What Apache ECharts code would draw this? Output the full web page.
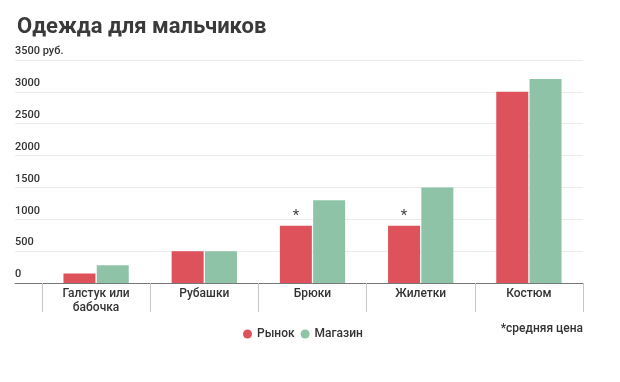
<!DOCTYPE html>
<html><head><meta charset="utf-8">
<script src="https://cdn.jsdelivr.net/npm/echarts@6/dist/echarts.min.js"></script>
<style>html,body{margin:0;padding:0;background:#fff}#c{width:620px;height:382px}</style>
</head><body><div id="c"></div>
<script>
const categories = ['Галстук или\nбабочка', 'Рубашки', 'Брюки', 'Жилетки', 'Костюм'];
const market = [150, 500, 900, 900, 3000];
const shop = [280, 500, 1300, 1500, 3200];
const starred = [false, false, true, true, false];
const seriesNames = ['Рынок', 'Магазин'];
const yTicks = [0, 500, 1000, 1500, 2000, 2500, 3000, 3500];

const FONT = 'Roboto';
const chart = echarts.init(document.getElementById('c'));
chart.setOption({
  animation: false,
  textStyle: { fontFamily: FONT },
  title: {
    text: 'Одежда для мальчиков', left: 12, top: 11,
    textStyle: { fontSize: 22, fontWeight: 'bold', color: '#3a3a3a', fontFamily: FONT }
  },
  legend: {
    data: seriesNames, left: 238, top: 323, icon: 'circle',
    itemWidth: 9, itemHeight: 9, itemGap: 6,
    textStyle: { fontSize: 12, fontWeight: 500, color: '#333', fontFamily: FONT }
  },
  graphic: [{
    type: 'text', right: 37, top: 323,
    style: { text: '*средняя цена', fontSize: 12, fontWeight: 500, fill: '#333', fontFamily: FONT }
  }],
  grid: [
    { left: 42, right: 37, top: 60, bottom: 99 },
    { left: 15, right: 37, top: 60, bottom: 99 }
  ],
  xAxis: [
    { type: 'category', gridIndex: 0, data: categories,
      axisLine: { show: false },
      axisTick: { show: true, length: 29, lineStyle: { color: '#c8c8c8', width: 1 } },
      axisLabel: { fontSize: 12, fontWeight: 500, color: '#333', margin: 4, lineHeight: 14, fontFamily: FONT } },
    { type: 'value', gridIndex: 1, min: 0, max: 1,
      axisLine: { show: true, lineStyle: { color: '#777', width: 1 } },
      axisTick: { show: false }, axisLabel: { show: false }, splitLine: { show: false } }
  ],
  yAxis: [
    { type: 'value', gridIndex: 0, min: 0, max: 3500, interval: 500,
      axisLine: { show: false }, axisTick: { show: false }, axisLabel: { show: false },
      splitLine: { show: false } },
    { type: 'value', gridIndex: 1, min: 0, max: 3500, interval: 500,
      axisLine: { show: false }, axisTick: { show: false },
      splitLine: { show: true, lineStyle: { color: '#ebebeb', width: 1 } },
      axisLabel: { inside: true, margin: 0, verticalAlign: 'bottom', padding: [0, 0, 3, 0],
        fontSize: 11, fontWeight: 500, color: '#333', fontFamily: FONT,
        formatter: v => v === yTicks[yTicks.length - 1] ? v + ' руб.' : String(v) } }
  ],
  series: [
    { name: seriesNames[0], type: 'bar', xAxisIndex: 0, yAxisIndex: 0, barWidth: 32, barGap: '4%',
      itemStyle: { color: '#de525b' },
      data: market.map((v, i) => ({ value: v,
        label: { show: starred[i], position: 'top', formatter: '*', fontSize: 15, color: '#444', distance: 2 } })) },
    { name: seriesNames[1], type: 'bar', xAxisIndex: 0, yAxisIndex: 0, barWidth: 32, barGap: '4%',
      itemStyle: { color: '#8ec3a7' }, data: shop }
  ]
});
</script></body></html>
